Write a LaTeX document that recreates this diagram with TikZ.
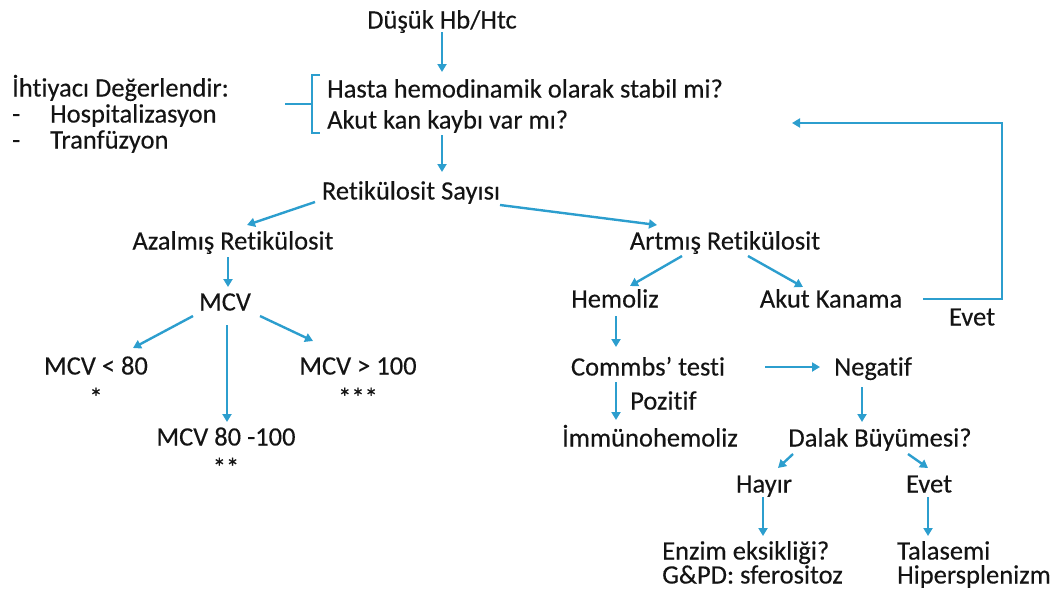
\documentclass[tikz,border=0pt]{standalone}
\usepackage{fontspec}
\setmainfont{Carlito}[Ligatures={NoCommon},FakeBold=0.3]
\usetikzlibrary{arrows.meta,calc}

\definecolor{flow}{RGB}{44,158,206}
\definecolor{ink}{RGB}{20,20,20}

\begin{document}
\begin{tikzpicture}[x=1pt,y=-1pt,
  lbl/.style={inner sep=0pt,text height=17pt,text depth=0pt,text=ink,
              font=\fontsize{26.5}{30}\selectfont},
  lblw/.style={lbl,anchor=west},
  flowline/.style={draw=flow,line width=2.4pt},
  flowarrow/.style={flowline,-{Triangle[length=8pt,width=9pt]}}]

\useasboundingbox (0,0) rectangle (1059,590);

% --- top: question block and management note
\node[lbl]  (top)   at (442,20)  {Düşük Hb/Htc};
\node[lblw] (hasta) at (327,89)  {Hasta hemodinamik olarak stabil mi?};
\node[lblw] (akut)  at (327,120) {Akut kan kaybı var mı?};
\node[lblw] (iht)   at (12,88)   {İhtiyacı Değerlendir:};
\node[lblw] (d1)    at (12,114)  {-};
\node[lblw] (hosp)  at (50,114)  {Hospitalizasyon};
\node[lblw] (d2)    at (12,140)  {-};
\node[lblw] (tran)  at (50,140)  {Tranfüzyon};

% bracket grouping the two questions
\draw[flowline] ($(hasta.west)+(-7,-14)$) -- ($(hasta.west)+(-15,-14)$)
  -- ($(akut.west)+(-15,13)$) -- ($(akut.west)+(-7,13)$);
\draw[flowline] ($(hasta.west)+(-15,15)$) -- ($(hasta.west)+(-42,15)$);

% --- reticulocyte branch
\node[lbl] (retik)  at (411,191) {Retikülosit Sayısı};
\node[lbl] (azal)   at (233,241) {Azalmış Retikülosit};
\node[lbl] (artm)   at (725,241) {Artmış Retikülosit};

% --- decreased reticulocytes
\node[lbl] (mcv)    at (225,302) {MCV};
\node[lbl] (m80)    at (96,366)  {MCV < 80};
\node[lbl] (s1)     at (96,398)  {*};
\node[lbl] (m100)   at (358,366) {MCV > 100};
\node[lbl] (s3)     at (358,398) {***};
\node[lbl] (m80100) at (226,437) {MCV 80 -100};
\node[lbl] (s2)     at (226,468) {**};

% --- increased reticulocytes
\node[lbl] (hemo)   at (615,299) {Hemoliz};
\node[lbl] (akutk)  at (831,299) {Akut Kanama};
\node[lbl] (evet1)  at (972,317) {Evet};
\node[lbl] (coombs) at (648,367) {Commbs’ testi};
\node[lbl] (neg)    at (873,367) {Negatif};
\node[lblw] (poz)   at (630,401) {Pozitif};
\node[lbl] (immun)  at (650,438) {İmmünohemoliz};
\node[lbl] (dalak)  at (880,438) {Dalak Büyümesi?};
\node[lbl] (hayir)  at (764,484) {Hayır};
\node[lbl] (evet2)  at (929,484) {Evet};
\node[lblw] (enzim) at (662,551) {Enzim eksikliği?};
\node[lblw] (gpd)   at (662,575) {G\&PD: sferositoz};
\node[lblw] (tal)   at (897,551) {Talasemi};
\node[lblw] (hipe)  at (897,575) {Hipersplenizm};

% return path of the bleeding branch
\coordinate (loopcorner) at (1002,123);
\coordinate (loopend)    at (792,123);

% --- connectors
\draw[flowarrow] ($(top)+(0,12)$) -- ($(hasta.west)+(115,-17)$);
\draw[flowarrow] ($(akut.west)+(115,15)$) -- ($(retik)+(31,-19)$);
\draw[flowarrow] ($(retik)+(-96,11)$) -- ($(azal)+(14,-16)$);
\draw[flowarrow] ($(retik)+(89,14)$) -- ($(artm)+(-68,-16)$);
\draw[flowarrow] ($(azal)+(-5,16)$) -- ($(mcv)+(3,-15)$);
\draw[flowarrow] ($(mcv)+(-32,14)$) -- ($(m80)+(37,-18)$);
\draw[flowarrow] ($(mcv)+(35,14)$) -- ($(m100)+(-45,-25)$);
\draw[flowarrow] ($(mcv)+(2,23)$) -- ($(m80100)+(1,-15)$);
\draw[flowarrow] ($(artm)+(-43,15)$) -- ($(hemo)+(15,-13)$);
\draw[flowarrow] ($(artm)+(23,15)$) -- ($(akutk)+(-28,-12)$);
\draw[flowarrow] ($(akutk)+(92,0)$) -| (loopcorner) -- (loopend);
\draw[flowarrow] ($(hemo)+(1,17)$) -- ($(coombs)+(-32,-20)$);
\draw[flowarrow] ($(coombs)+(117,0)$) -- ($(neg)+(-53,0)$);
\draw[flowarrow] ($(coombs)+(-32,15)$) -- ($(immun)+(-34,-18)$);
\draw[flowarrow] ($(neg)+(-11,20)$) -- ($(dalak)+(-18,-16)$);
\draw[flowarrow] ($(dalak)+(-87,16)$) -- ($(hayir)+(14,-16)$);
\draw[flowarrow] ($(dalak)+(28,16)$) -- ($(evet2)+(-1,-16)$);
\draw[flowarrow] ($(hayir)+(-1,13)$) -- ($(enzim.west)+(101,-15)$);
\draw[flowarrow] ($(evet2)+(-1,13)$) -- ($(tal.west)+(31,-15)$);

\end{tikzpicture}
\end{document}
